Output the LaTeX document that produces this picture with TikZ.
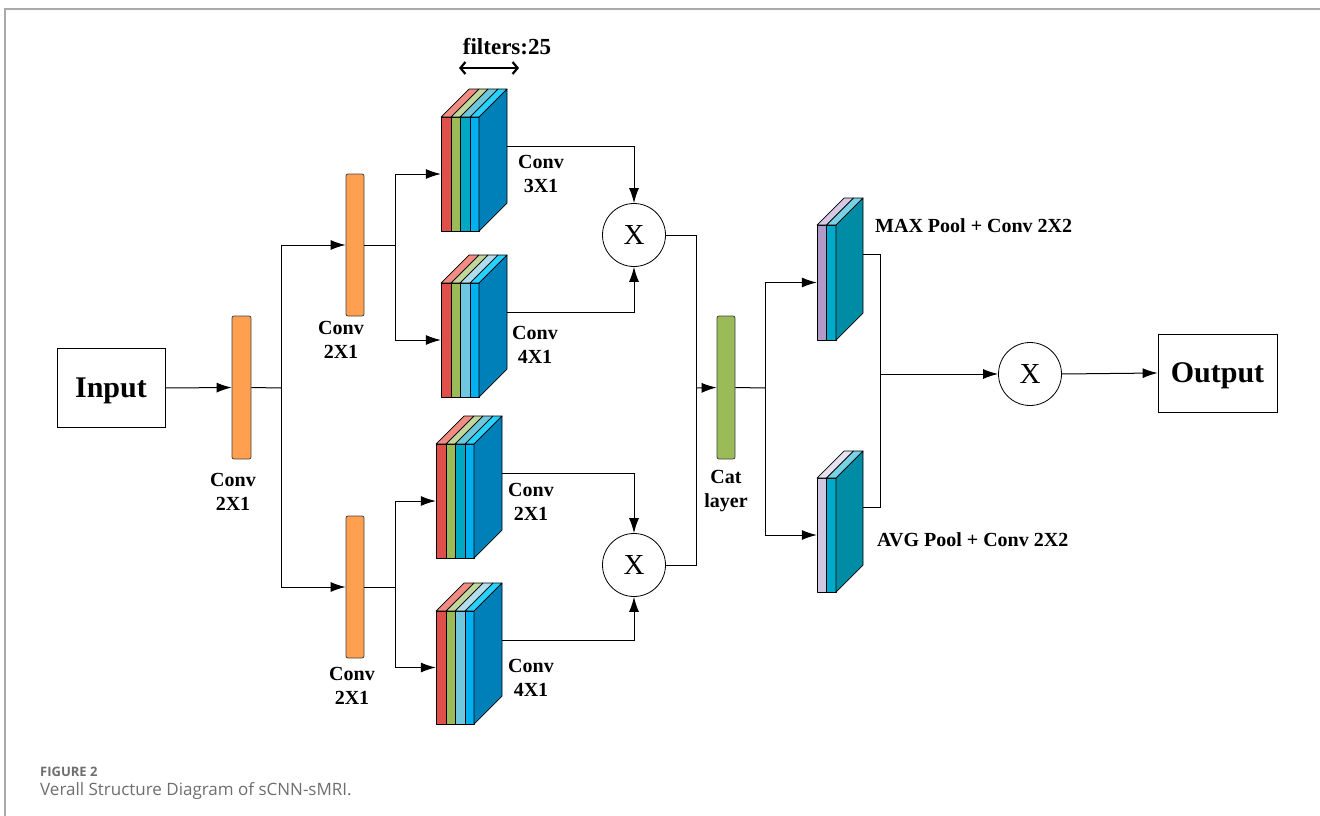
\documentclass[tikz,border=0pt]{standalone}
\usepackage{fontspec}
\setmainfont{Liberation Serif}
\newfontfamily\capfont{Open Sans}
\usetikzlibrary{arrows.meta}
\definecolor{cred}{RGB}{224,80,74}
\definecolor{cpink}{RGB}{240,140,130}
\definecolor{cgreen}{RGB}{155,187,89}
\definecolor{clgreen}{RGB}{195,214,155}
\definecolor{cteal}{RGB}{0,168,196}
\definecolor{clteal}{RGB}{110,200,220}
\definecolor{cblue}{RGB}{0,176,240}
\definecolor{clblue}{RGB}{40,210,255}
\definecolor{cside}{RGB}{0,128,184}
\definecolor{clt}{RGB}{112,200,224}
\definecolor{cltt}{RGB}{176,222,236}
\definecolor{cpurple}{RGB}{176,154,200}
\definecolor{clpurple}{RGB}{214,200,228}
\definecolor{cteala}{RGB}{0,170,200}
\definecolor{clteala}{RGB}{120,210,228}
\definecolor{csidea}{RGB}{0,140,165}
\definecolor{clav}{RGB}{208,200,224}
\definecolor{cllav}{RGB}{232,226,240}
\definecolor{corange}{RGB}{255,160,80}
\definecolor{cframe}{RGB}{170,170,170}
\definecolor{ccap}{RGB}{110,110,110}
\newcommand{\cnnstack}[8]{%
  \begin{scope}[shift={(#2,#3)}, line width=0.7pt, line join=round]
    \foreach \a/\b/\fc/\tc in {#7}{
      \filldraw[fill=\fc] (\a,0) rectangle (\b,#4);
      \filldraw[fill=\tc] (\a,0) -- (\a+#6,-#6) -- (\b+#6,-#6) -- (\b,0) -- cycle;
    }
    \filldraw[fill=#8] (#5,0) -- (#5+#6,-#6) -- (#5+#6,#4-#6) -- (#5,#4) -- cycle;
  \end{scope}
  \node[inner sep=0, minimum width=#5pt, minimum height=#4pt] (#1) at (#2+#5/2, #3+#4/2) {};
  \coordinate (#1-out) at (#2+#5+#6, #3+29);
}
\begin{document}
\begin{tikzpicture}[x=1pt,y=-1pt,
  conn/.style={line width=1pt},
  arr/.style={line width=1pt,-{Latex[length=15pt,width=10pt]}},
  bar/.style={draw=black!75, line width=0.8pt, rounded corners=2pt, inner sep=0, minimum width=19pt, minimum height=143pt},
  lbl/.style={font=\fontsize{20}{24}\selectfont\bfseries, align=center, inner sep=0},
  mult/.style={draw, circle, line width=0.8pt, minimum size=63pt, inner sep=0, font=\fontsize{29}{30}\selectfont},
  iobox/.style={draw, line width=0.8pt, inner sep=0, text depth=1pt, font=\fontsize{30}{36}\selectfont\bfseries}]
\useasboundingbox (0,0) rectangle (1320,816);
% frame
\draw[cframe, line width=2pt] (5,816) -- (5,9) -- (1320,9);
% input/output
\node[iobox, minimum width=108pt, minimum height=79pt] (inp) at (111,388) {Input};
\node[iobox, minimum width=119pt, minimum height=78pt] (out) at (1217.5,373) {Output};
% conv bars
\node[bar, fill=corange] (c1) at (241.5,387.5) {};
\node[bar, fill=corange, minimum width=18pt, minimum height=142pt] (c2a) at (355,245) {};
\node[bar, fill=corange, minimum width=18pt, minimum height=142pt] (c2b) at (355,587) {};
\node[bar, fill=cgreen, minimum width=18pt] (cat) at (726,387.5) {};
\node[lbl] (l1) at (233,492) {Conv\\2X1};
\node[lbl] (l2) at (341,340) {Conv\\2X1};
\node[lbl] (l3) at (352,686) {Conv\\2X1};
\node[lbl] (lcat) at (726,491) {Cat\\layer};
% conv stacks
\cnnstack{b1}{441}{117}{114}{38}{28}{0/10/cred/cpink, 10/19/cgreen/clgreen, 19/29/cteal/clteal, 29/38/cblue/clblue}{cside}
\cnnstack{b2}{441}{283}{114}{38}{28}{0/10/cred/cpink, 10/19/cgreen/clgreen, 19/29/clt/cltt, 29/38/cblue/clblue}{cside}
\cnnstack{b3}{436}{444}{114}{38}{28}{0/10/cred/cpink, 10/19/cgreen/clgreen, 19/29/cteal/clteal, 29/38/cblue/clblue}{cside}
\cnnstack{b4}{436}{611}{113}{38}{28}{0/10/cred/cpink, 10/19/cgreen/clgreen, 19/29/clt/cltt, 29/38/cblue/clblue}{cside}
\cnnstack{mp}{817}{225}{115}{19}{27}{0/9.5/cpurple/clpurple, 9.5/19/cteala/clteala}{csidea}
\cnnstack{ap}{817}{478}{114}{19}{27}{0/9.5/clav/cllav, 9.5/19/cteala/clteala}{csidea}
\node[lbl] (lb1) at (541,174) {Conv\\3X1};
\node[lbl] (lb2) at (535,345) {Conv\\4X1};
\node[lbl] (lb3) at (531,502) {Conv\\2X1};
\node[lbl] (lb4) at (531,678) {Conv\\4X1};
\node[lbl, anchor=west] (lmp) at (875,226) {MAX Pool + Conv 2X2};
\node[lbl, anchor=west] (lap) at (877,540) {AVG Pool + Conv 2X2};
% filters
\node[font=\fontsize{23}{26}\selectfont\bfseries, inner sep=0] (filt) at (507,47) {filters:25};
\coordinate (fa) at (459,68);
\coordinate (fb) at (519,68);
\draw[line width=2.2pt, {Straight Barb[length=5pt,width=12pt]}-{Straight Barb[length=5pt,width=12pt]}] (fa) -- (fb);
% multiply nodes
\node[mult] (m1) at (634,235) {X};
\node[mult] (m2) at (634,565) {X};
\node[mult] (m3) at (1030,374) {X};
% junctions
\coordinate (j1) at (281,388);
\coordinate (j2) at (395,245);
\coordinate (j3) at (395,587);
\coordinate (j4) at (696,388);
\coordinate (j5) at (765,388);
\coordinate (j6) at (880,374);
% connectors
\draw[arr] (inp.east) -- (c1.west);
\draw[conn] (c1.east) -- (j1);
\draw[arr] (j1) |- (c2a.west);
\draw[arr] (j1) |- (c2b.west);
\draw[conn] (c2a.east) -- (j2);
\draw[arr] (j2) |- (b1.west);
\draw[arr] (j2) |- (b2.west);
\draw[conn] (c2b.east) -- (j3);
\draw[arr] (j3) |- (b3.west);
\draw[arr] (j3) |- (b4.west);
\draw[arr] (b1-out) -| (m1.north);
\draw[arr] (b2-out) -| (m1.south);
\draw[arr] (b3-out) -| (m2.north);
\draw[arr] (b4-out) -| (m2.south);
\draw[conn] (m1.east) -| (j4);
\draw[conn] (m2.east) -| (j4);
\draw[arr] (j4) -- (cat.west);
\draw[conn] (cat.east) -- (j5);
\draw[arr] (j5) |- (mp.west);
\draw[arr] (j5) |- (ap.west);
\draw[conn] (mp-out) -| (j6);
\draw[conn] (ap-out) -| (j6);
\draw[arr] (j6) -- (m3.west);
\draw[arr] (m3.east) -- (out.west);
% caption
\node[anchor=base west, inner sep=0, text=ccap, font=\capfont\fontsize{13}{15}\selectfont\bfseries] (fig) at (40,776) {FIGURE 2};
\node[anchor=base west, inner sep=0, text=ccap, font=\capfont\fontsize{17}{20}\selectfont] (cap) at (40,795) {Verall Structure Diagram of sCNN-sMRI.};
\end{tikzpicture}
\end{document}
